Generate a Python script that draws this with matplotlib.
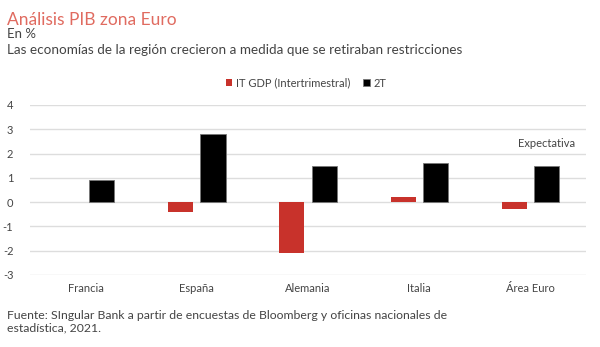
import matplotlib
matplotlib.use("Agg")
import matplotlib.pyplot as plt
import numpy as np

categories = ["Francia", "España", "Alemania", "Italia", "Área Euro"]
it_gdp = [0.0, -0.4, -2.1, 0.2, -0.3]
t2 = [0.9, 2.8, 1.5, 1.6, 1.5]
yticks = [-3, -2, -1, 0, 1, 2, 3, 4]

plt.rcParams['font.family'] = ['Lato', 'DejaVu Sans']
RED = "#c8322b"
TXT = "#444444"

fig = plt.figure(figsize=(6, 3.47), dpi=100)
ax = fig.add_axes([0.05, 0.2075, 0.927, 0.49])

x = np.arange(len(categories))
w = 0.225
off = 0.145
ax.bar(x - off, it_gdp, w, color=RED, label="IT GDP (Intertrimestral)", zorder=3)
ax.bar(x + off, t2, w, color="black", edgecolor="#777777", linewidth=0.6, label="2T", zorder=3)

ax.set_xlim(-0.5, len(categories) - 0.5)
ax.set_ylim(-3, 4)
ax.set_yticks(yticks)
ax.set_yticklabels([str(v) for v in yticks])
ax.set_xticks(x)
ax.set_xticklabels(categories)
ax.grid(axis='y', color="#dddddd", linewidth=1, zorder=0)
for s in ax.spines.values():
    s.set_visible(False)
ax.tick_params(axis='both', length=0, labelsize=8, colors=TXT)
ax.tick_params(axis='y', pad=12)
ax.tick_params(axis='x', pad=6)

ax.annotate("Expectativa", xy=(x[-1] + off, t2[-1]), xytext=(0, 12),
            textcoords="offset points", ha="center", va="bottom", fontsize=8, color=TXT)

leg = fig.legend(loc="center", bbox_to_anchor=(0.51, 0.76), ncol=2, frameon=False,
                 fontsize=8, handlelength=0.6, handleheight=0.6, handletextpad=0.3,
                 columnspacing=1.2, labelcolor=TXT)

fig.text(0.012, 0.942, "Análisis PIB zona Euro", fontsize=12.5, color="#e06b60", va="center")
fig.text(0.012, 0.902, "En %", fontsize=9.5, color=TXT, va="center")
fig.text(0.012, 0.856, "Las economías de la región crecieron a medida que se retiraban restricciones",
         fontsize=9.7, color=TXT, va="center")
fig.text(0.012, 0.092, "Fuente: SIngular Bank a partir de encuestas de Bloomberg y oficinas nacionales de",
         fontsize=8.8, color=TXT, va="center")
fig.text(0.012, 0.055, "estadística, 2021.", fontsize=8.8, color=TXT, va="center")

fig.savefig("out.png", dpi=100)
